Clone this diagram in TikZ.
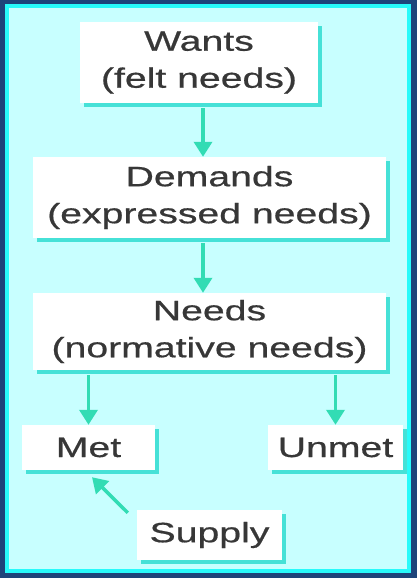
\documentclass[tikz,border=0pt]{standalone}
\usepackage{fontspec}
\setmainfont{Liberation Sans}
\newfontfamily\needfont{Liberation Sans}[FakeBold=0.5]
\usetikzlibrary{positioning,calc,arrows.meta,shadows}
\definecolor{frameblue}{RGB}{30,68,122}
\definecolor{paleaqua}{RGB}{200,255,255}
\definecolor{edgeaqua}{RGB}{40,250,250}
\definecolor{shadeaqua}{RGB}{70,225,215}
\definecolor{flowgreen}{RGB}{50,220,180}
\definecolor{inkgrey}{RGB}{55,55,55}
\newcommand{\wide}[1]{\scalebox{1.4}[1]{#1}}
\tikzset{
    needbox/.style={fill=white, inner sep=0pt, align=center, text=inkgrey,
        font=\needfont\fontsize{28}{37}\selectfont,
        general shadow={fill=shadeaqua, shadow xshift=4pt, shadow yshift=-4pt}},
    flow/.style={line width=3.5pt, flowgreen, -{Triangle[width=18pt,length=15pt]}}
}

\begin{document}
\begin{tikzpicture}[x=1pt, y=-1pt]
    \fill [frameblue] (0,0) rectangle (417,578);
    \draw [edgeaqua, line width=4pt, fill=paleaqua] (7,6) rectangle (409,571);
    \node [needbox, minimum width=238pt, minimum height=81pt] (wants) at (199,62.5) {\wide{Wants}\\\wide{(felt needs)}};
    \node [needbox, minimum width=353pt, minimum height=81pt] (demands) at (209.5,197.5) {\wide{Demands}\\\wide{(expressed needs)}};
    \node [needbox, minimum width=353pt, minimum height=77pt] (needs) at (209.5,331.5) {\wide{Needs}\\\wide{(normative needs)}};
    \node [needbox, minimum width=133pt, minimum height=45pt] (met) at (88.5,447.5) {\wide{Met}};
    \node [needbox, minimum width=135pt, minimum height=45pt] (unmet) at (335.5,447.5) {\wide{Unmet}};
    \node [needbox, minimum width=145pt, minimum height=50pt] (supply) at (209.5,535) {\wide{Supply}};
    \draw [flow] ([xshift=4pt,yshift=-5pt]wants.south) -- ([xshift=-6.5pt]demands.north);
    \draw [flow] ([xshift=-6.5pt,yshift=-5pt]demands.south) -- ([xshift=-6.5pt]needs.north);
    \draw [flow] ($(needs.south -| met.north)+(0,5)$) -- (met.north);
    \draw [flow] ($(needs.south -| unmet.north)+(0,5)$) -- (unmet.north);
    \draw [flow] ([xshift=-9pt,yshift=-3pt]supply.north west) -- ([xshift=3.5pt,yshift=-7pt]met.south);
\end{tikzpicture}
\end{document}
